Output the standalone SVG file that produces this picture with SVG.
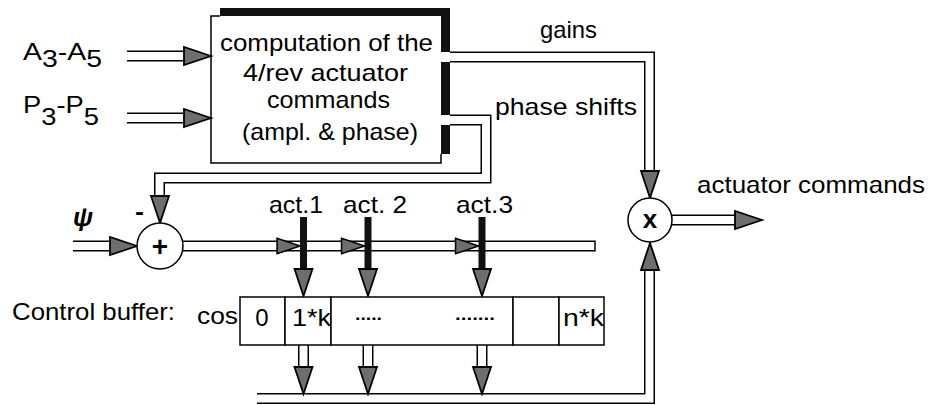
<svg xmlns="http://www.w3.org/2000/svg" xmlns:xlink="http://www.w3.org/1999/xlink" width="931" height="405" viewBox="0 0 931 405">
<style>
.t{font-family:"Liberation Sans",Arial,sans-serif;font-size:24px;fill:#000}
.pipe-o{fill:none;stroke:#000;stroke-width:11;stroke-linejoin:miter}
.pipe-i{fill:none;stroke:#fff;stroke-width:8;stroke-linejoin:miter}
.ah{fill:#6e6e6e;stroke:#000;stroke-width:1.8;stroke-linejoin:miter}
.bar{fill:#111}
.ln{fill:none;stroke:#000;stroke-width:1.5}
.cell{fill:#fff;stroke:#000;stroke-width:1.5}
</style>
<defs>
<path id="ah" d="M0,0 L-27,-9 L-27,9 Z"/>
<path id="pA" d="M127,56 H190"/>
<path id="pP" d="M127,118 H190"/>
<path id="pPsi" d="M73,246 H115"/>
<path id="pMain" d="M183,246 H595"/>
<path id="pGain" d="M450,57 H649.5 V175"/>
<path id="pPhase" d="M450,120 H486 V178 H159.5 V205"/>
<path id="pBot" d="M257,398.5 H649.5 V265"/>
<path id="pOut" d="M672,220 H740"/>
<path id="pS1" d="M303.5,345 V370"/>
<path id="pS2" d="M368,345 V370"/>
<path id="pS3" d="M482,345 V370"/>
</defs>
<rect width="931" height="405" fill="#fff"/>

<g id="connectors">
  <use xlink:href="#pA" class="pipe-o"/><use xlink:href="#pA" class="pipe-i"/>
  <use xlink:href="#pP" class="pipe-o"/><use xlink:href="#pP" class="pipe-i"/>
  <use xlink:href="#pPsi" class="pipe-o"/><use xlink:href="#pPsi" class="pipe-i"/>
  <use xlink:href="#pMain" class="pipe-o"/><use xlink:href="#pMain" class="pipe-i"/>
  <line class="ln" x1="595" y1="240.5" x2="595" y2="251.5"/>
  <use xlink:href="#pGain" class="pipe-o"/><use xlink:href="#pGain" class="pipe-i"/>
  <use xlink:href="#pPhase" class="pipe-o"/><use xlink:href="#pPhase" class="pipe-i"/>
  <use xlink:href="#pBot" class="pipe-o"/><use xlink:href="#pBot" class="pipe-i"/>
  <use xlink:href="#pOut" class="pipe-o"/><use xlink:href="#pOut" class="pipe-i"/>
  <use xlink:href="#pS1" class="pipe-o"/><use xlink:href="#pS1" class="pipe-i"/>
  <use xlink:href="#pS2" class="pipe-o"/><use xlink:href="#pS2" class="pipe-i"/>
  <use xlink:href="#pS3" class="pipe-o"/><use xlink:href="#pS3" class="pipe-i"/>
  <rect class="bar" x="300" y="217" width="7" height="52"/>
  <rect class="bar" x="364.5" y="217" width="7" height="52"/>
  <rect class="bar" x="478.5" y="217" width="7" height="52"/>
  <use xlink:href="#ah" class="ah" transform="translate(211,56)"/>
  <use xlink:href="#ah" class="ah" transform="translate(211,118)"/>
  <use xlink:href="#ah" class="ah" transform="translate(137,246)"/>
  <use xlink:href="#ah" class="ah" transform="translate(160,223) rotate(90)"/>
  <use xlink:href="#ah" class="ah" transform="translate(300,246) scale(0.85)"/>
  <use xlink:href="#ah" class="ah" transform="translate(364.5,246) scale(0.85)"/>
  <use xlink:href="#ah" class="ah" transform="translate(478.5,246) scale(0.85)"/>
  <use xlink:href="#ah" class="ah" transform="translate(303.5,296) rotate(90)"/>
  <use xlink:href="#ah" class="ah" transform="translate(368,296) rotate(90)"/>
  <use xlink:href="#ah" class="ah" transform="translate(482,296) rotate(90)"/>
  <use xlink:href="#ah" class="ah" transform="translate(303.5,394) rotate(90)"/>
  <use xlink:href="#ah" class="ah" transform="translate(368,394) rotate(90)"/>
  <use xlink:href="#ah" class="ah" transform="translate(482,394) rotate(90)"/>
  <use xlink:href="#ah" class="ah" transform="translate(650,198) rotate(90)"/>
  <use xlink:href="#ah" class="ah" transform="translate(650,243) rotate(-90)"/>
  <use xlink:href="#ah" class="ah" transform="translate(762,220)"/>
</g>

<g id="input-amplitudes">
  <text class="t" x="23" y="60" textLength="79" lengthAdjust="spacingAndGlyphs">A<tspan dy="7">3</tspan><tspan dy="-7">-A</tspan><tspan dy="7">5</tspan></text>
</g>
<g id="input-phases">
  <text class="t" x="23" y="113" textLength="76" lengthAdjust="spacingAndGlyphs">P<tspan dy="12">3</tspan><tspan dy="-12">-P</tspan><tspan dy="12">5</tspan></text>
</g>

<g id="computation-box">
  <path class="ln" d="M441,154 V163 H211 V16 H220"/>
  <rect class="bar" x="220" y="8" width="230" height="8"/>
  <rect class="bar" x="441" y="8" width="9" height="44"/>
  <rect class="bar" x="441" y="62" width="9" height="53"/>
  <rect class="bar" x="441" y="125" width="9" height="29"/>
  <text class="t" x="220" y="51" textLength="213" lengthAdjust="spacingAndGlyphs">computation of the</text>
  <text class="t" x="243" y="81" textLength="165" lengthAdjust="spacingAndGlyphs">4/rev actuator</text>
  <text class="t" x="267" y="108" textLength="123" lengthAdjust="spacingAndGlyphs">commands</text>
  <text class="t" x="242" y="140" textLength="176" lengthAdjust="spacingAndGlyphs">(ampl. &amp; phase)</text>
</g>

<g id="label-gains">
  <text class="t" x="540" y="38" textLength="57" lengthAdjust="spacingAndGlyphs">gains</text>
</g>
<g id="label-phase-shifts">
  <text class="t" x="495" y="115" textLength="142" lengthAdjust="spacingAndGlyphs">phase shifts</text>
</g>

<g id="psi-input">
  <text class="t" x="73" y="226" style="font-style:italic;font-weight:bold;font-size:26px">ψ</text>
</g>

<g id="sum-node">
  <circle cx="160" cy="246" r="23" fill="#fff" stroke="#000" stroke-width="1.5"/>
  <text class="t" x="160" y="256" text-anchor="middle" style="font-weight:bold;font-size:28px">+</text>
  <text class="t" x="135" y="220" textLength="9" lengthAdjust="spacingAndGlyphs" style="font-weight:bold">-</text>
</g>

<g id="act-labels">
  <text class="t" x="269" y="213" textLength="54" lengthAdjust="spacingAndGlyphs">act.1</text>
  <text class="t" x="343" y="213" textLength="64" lengthAdjust="spacingAndGlyphs">act. 2</text>
  <text class="t" x="456" y="213" textLength="57" lengthAdjust="spacingAndGlyphs">act.3</text>
</g>

<g id="mult-node">
  <circle cx="650" cy="220" r="22" fill="#fff" stroke="#000" stroke-width="1.5"/>
  <text class="t" x="650" y="228" text-anchor="middle" style="font-weight:bold;font-size:26px">x</text>
</g>

<g id="label-actuator-commands">
  <text class="t" x="697" y="193" textLength="228" lengthAdjust="spacingAndGlyphs">actuator commands</text>
</g>

<g id="control-buffer">
  <text class="t" x="12" y="320" textLength="163" lengthAdjust="spacingAndGlyphs">Control buffer:</text>
  <text class="t" x="197" y="324" textLength="41" lengthAdjust="spacingAndGlyphs">cos</text>
  <rect class="cell" x="240" y="297" width="45" height="48"/>
  <rect class="cell" x="285" y="297" width="46" height="48"/>
  <rect class="cell" x="331" y="297" width="182" height="48"/>
  <rect class="cell" x="513" y="297" width="46" height="48"/>
  <rect class="cell" x="559" y="297" width="45" height="48"/>
  <text class="t" x="262" y="326" text-anchor="middle">0</text>
  <text class="t" x="292" y="326" textLength="39" lengthAdjust="spacingAndGlyphs">1*k</text>
  <text class="t" x="355" y="320" textLength="27" lengthAdjust="spacingAndGlyphs" style="font-size:16px;font-weight:bold">.....</text>
  <text class="t" x="455" y="320" textLength="40" lengthAdjust="spacingAndGlyphs" style="font-size:16px;font-weight:bold">.......</text>
  <text class="t" x="563" y="326" textLength="41" lengthAdjust="spacingAndGlyphs">n*k</text>
</g>
</svg>
